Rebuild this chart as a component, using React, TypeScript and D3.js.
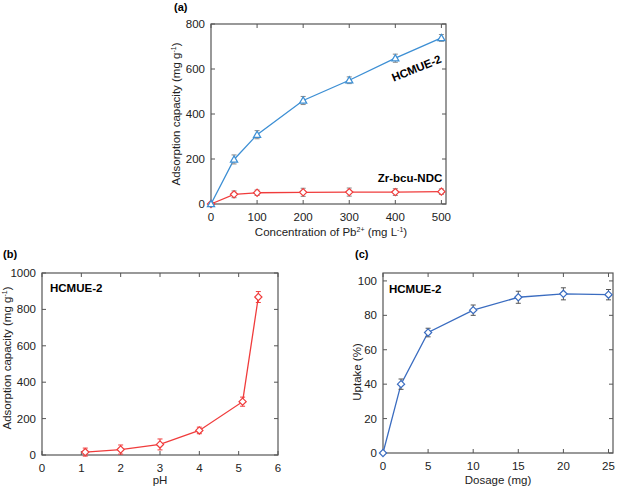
import React from "react";
import * as d3 from "d3";

// Panel (a)
const concX = [0, 50, 100, 200, 300, 400, 500];
const hcmueCap = [0, 198, 308, 460, 550, 648, 738];
const hcmueErr = [0, 20, 18, 18, 15, 18, 15];
const zrCap = [0, 43, 50, 52, 53, 53, 55];
const zrErr = [0, 15, 12, 18, 18, 15, 12];
const aXTicks = [0, 100, 200, 300, 400, 500];
const aYTicks = [0, 200, 400, 600, 800];

// Panel (b)
const pHX = [1.1, 2, 3, 4, 5.1, 5.5];
const pHCap = [16, 30, 58, 135, 293, 868];
const pHErr = [22, 25, 30, 18, 25, 30];
const bXTicks = [0, 1, 2, 3, 4, 5, 6];
const bYTicks = [0, 200, 400, 600, 800, 1000];

// Panel (c)
const doseX = [0, 2, 5, 10, 15, 20, 25];
const uptake = [0, 40, 70, 83, 90.5, 92.5, 92];
const uptakeErr = [0, 3, 2.5, 3, 3.5, 3.5, 3];
const cXTicks = [0, 5, 10, 15, 20, 25];
const cYTicks = [0, 20, 40, 60, 80, 100];

const FONT = "'Liberation Sans', Arial, sans-serif";
const AXIS = "#555";

type Frame = { l: number; r: number; t: number; b: number };

function Axes({ f, x, y, xt, yt }: { f: Frame; x: any; y: any; xt: number[]; yt: number[] }) {
  const tl = 4;
  return (
    <g>
      <rect x={f.l} y={f.t} width={f.r - f.l} height={f.b - f.t} fill="none" stroke={AXIS} strokeWidth={1.2} />
      {xt.map((v) => (
        <g key={"x" + v}>
          <line x1={x(v)} x2={x(v)} y1={f.b} y2={f.b - tl} stroke={AXIS} />
          <line x1={x(v)} x2={x(v)} y1={f.t} y2={f.t + tl} stroke={AXIS} />
          <text x={x(v)} y={f.b + 17} textAnchor="middle" fontSize={11.5} fill="#222">{v}</text>
        </g>
      ))}
      {yt.map((v) => (
        <g key={"y" + v}>
          <line x1={f.l} x2={f.l + tl} y1={y(v)} y2={y(v)} stroke={AXIS} />
          <line x1={f.r} x2={f.r - tl} y1={y(v)} y2={y(v)} stroke={AXIS} />
          <text x={f.l - 6} y={y(v)} dy="0.35em" textAnchor="end" fontSize={11.5} fill="#222">{v}</text>
        </g>
      ))}
    </g>
  );
}

function Series({ xs, ys, es, x, y, color, errColor, marker }: any) {
  const line = d3.line<number>().x((_, i) => x(xs[i])).y((d) => y(d));
  const s = 3.6;
  return (
    <g>
      <path d={line(ys) || ""} fill="none" stroke={color} strokeWidth={1.3} />
      {ys.map((v: number, i: number) => {
        const cx = x(xs[i]);
        const cy = y(v);
        const e = es[i];
        return (
          <g key={i}>
            {e > 0 && (
              <g stroke={errColor} strokeWidth={1}>
                <line x1={cx} x2={cx} y1={y(v + e)} y2={y(v - e)} />
                <line x1={cx - 2.5} x2={cx + 2.5} y1={y(v + e)} y2={y(v + e)} />
                <line x1={cx - 2.5} x2={cx + 2.5} y1={y(v - e)} y2={y(v - e)} />
              </g>
            )}
            {marker === "tri" ? (
              <path d={`M${cx},${cy - s}L${cx + s},${cy + s * 0.75}L${cx - s},${cy + s * 0.75}Z`} fill="white" stroke={color} strokeWidth={1.2} />
            ) : (
              <path d={`M${cx},${cy - s}L${cx + s},${cy}L${cx},${cy + s}L${cx - s},${cy}Z`} fill="white" stroke={color} strokeWidth={1.2} />
            )}
          </g>
        );
      })}
    </g>
  );
}

export default function App() {
  const fa: Frame = { l: 211, r: 446, t: 24, b: 204 };
  const xa = d3.scaleLinear().domain([0, 510]).range([fa.l, fa.r]);
  const ya = d3.scaleLinear().domain([0, 800]).range([fa.b, fa.t]);

  const fb: Frame = { l: 42, r: 278, t: 273, b: 455 };
  const xb = d3.scaleLinear().domain([0, 6]).range([fb.l, fb.r]);
  const yb = d3.scaleLinear().domain([0, 1000]).range([fb.b, fb.t]);

  const fc: Frame = { l: 383, r: 613, t: 273, b: 453 };
  const xc = d3.scaleLinear().domain([0, 25.5]).range([fc.l, fc.r]);
  const yc = d3.scaleLinear().domain([0, 104.6]).range([fc.b, fc.t]);

  const red = "#f03c3c";
  const blueA = "#3d8fd4";
  const blueC = "#3a6cc0";

  return (
    <svg width={620} height={489} style={{ position: "absolute", left: 0, top: 0, background: "white" }} fontFamily={FONT}>
      <rect width={620} height={489} fill="white" />
      {/* Panel a */}
      <text x={174} y={11} fontSize={11} fontWeight="bold">(a)</text>
      <Axes f={fa} x={xa} y={ya} xt={aXTicks} yt={aYTicks} />
      <Series xs={concX} ys={zrCap} es={zrErr} x={xa} y={ya} color={red} errColor="#888" marker="dia" />
      <Series xs={concX} ys={hcmueCap} es={hcmueErr} x={xa} y={ya} color={blueA} errColor="#888" marker="tri" />
      <text x={418} y={72} fontSize={11.5} fontWeight="bold" textAnchor="middle" transform="rotate(-22 418 72)">HCMUE-2</text>
      <text x={410} y={182} fontSize={11.5} fontWeight="bold" textAnchor="middle">Zr-bcu-NDC</text>
      <text x={331} y={236} fontSize={11.5} textAnchor="middle" fill="#222">
        Concentration of Pb<tspan fontSize={7} dy={-4}>2+</tspan><tspan dy={4}> (mg L</tspan><tspan fontSize={7} dy={-4}>-1</tspan><tspan dy={4}>)</tspan>
      </text>
      <text transform="translate(180,114) rotate(-90)" fontSize={11.5} textAnchor="middle" fill="#222">
        Adsorption capacity (mg g<tspan fontSize={7} dy={-4}>-1</tspan><tspan dy={4}>)</tspan>
      </text>

      {/* Panel b */}
      <text x={3} y={258} fontSize={11} fontWeight="bold">(b)</text>
      <Axes f={fb} x={xb} y={yb} xt={bXTicks} yt={bYTicks} />
      <Series xs={pHX} ys={pHCap} es={pHErr} x={xb} y={yb} color={red} errColor={red} marker="dia" />
      <text x={50} y={292} fontSize={11.5} fontWeight="bold">HCMUE-2</text>
      <text x={160} y={484} fontSize={11.5} textAnchor="middle" fill="#222">pH</text>
      <text transform="translate(11,358) rotate(-90)" fontSize={11.5} textAnchor="middle" fill="#222">
        Adsorption capacity (mg g<tspan fontSize={7} dy={-4}>-1</tspan><tspan dy={4}>)</tspan>
      </text>

      {/* Panel c */}
      <text x={355} y={258} fontSize={11} fontWeight="bold">(c)</text>
      <Axes f={fc} x={xc} y={yc} xt={cXTicks} yt={cYTicks} />
      <Series xs={doseX} ys={uptake} es={uptakeErr} x={xc} y={yc} color={blueC} errColor="#555" marker="dia" />
      <text x={389} y={293} fontSize={11.5} fontWeight="bold">HCMUE-2</text>
      <text x={498} y={484} fontSize={11.5} textAnchor="middle" fill="#222">Dosage (mg)</text>
      <text transform="translate(361,372) rotate(-90)" fontSize={11.5} textAnchor="middle" fill="#222">Uptake (%)</text>
    </svg>
  );
}
